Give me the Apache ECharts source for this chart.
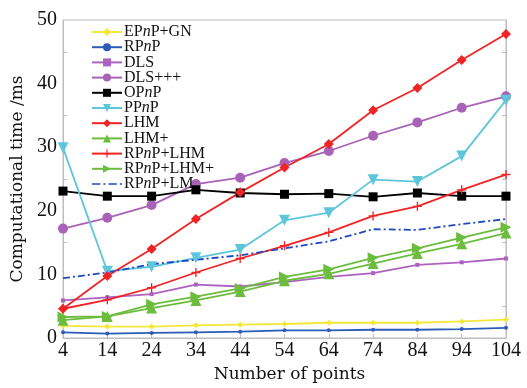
<!DOCTYPE html>
<html><head><meta charset="utf-8">
<script src="https://cdn.jsdelivr.net/npm/echarts@6/dist/echarts.min.js"></script>
<style>html,body{margin:0;padding:0;background:#fff}#c{width:527px;height:388px}</style>
</head><body><div id="c"></div>
<script>
const categories = ['4','14','24','34','44','54','64','74','84','94','104'];
const yTicks = [0,10,20,30,40,50];
const EPnP_GN   = [1.9,1.8,1.8,2.0,2.1,2.2,2.4,2.4,2.4,2.6,2.9];
const RPnP      = [0.9,0.7,0.8,0.9,1.0,1.2,1.2,1.3,1.3,1.4,1.6];
const DLS       = [5.9,6.4,6.9,8.4,8.1,8.8,9.6,10.2,11.5,11.9,12.5];
const DLSppp    = [17.2,18.9,20.9,24.2,25.2,27.5,29.4,31.8,33.9,36.2,38.0];
const OPnP      = [23.1,22.3,22.3,23.3,22.8,22.6,22.7,22.2,22.8,22.3,22.3];
const PPnP      = [29.9,10.5,11.2,12.6,13.9,18.5,19.7,24.9,24.6,28.6,37.4];
const LHM       = [4.6,9.75,14.0,18.7,22.9,26.8,30.5,35.8,39.3,43.7,47.8];
const LHMp      = [2.8,3.4,4.7,5.9,7.3,9.0,10.1,11.7,13.3,14.8,16.5];
const RPnP_LHM  = [4.6,6.0,7.9,10.3,12.5,14.5,16.6,19.2,20.7,23.3,25.7];
const RPnP_LHMp = [3.3,3.4,5.3,6.5,7.8,9.6,10.8,12.6,14.1,15.8,17.4];
const RPnP_LM   = [9.4,10.3,11.6,12.3,13.0,14.1,15.2,17.1,17.0,17.9,18.7];

const FONT = 'DejaVu Serif';
const TFONT = 'Liberation Serif';
const plus = 'path://M3.4,0H4.6V3.4H8V4.6H4.6V8H3.4V4.6H0V3.4H3.4Z';
const dashDotIcon = 'path://M0,0H8V1.6H0Z M11,0H13V1.6H11Z M16,0H24V1.6H16Z M27,0H29V1.6H27Z';
function s(name, data, color, symbol, size, extra) {
  return Object.assign({
    name, type: 'line', data, symbol, symbolSize: size,
    showAllSymbol: true,
    lineStyle: {color, width: 1.8},
    itemStyle: {color},
    emphasis: {disabled: true},
    animation: false
  }, extra || {});
}
const series = [
  s('EPnP+GN', EPnP_GN, '#f2e83a', 'diamond', 6),
  s('RPnP', RPnP, '#2c5cb8', 'circle', 4),
  s('DLS', DLS, '#ad62c0', 'rect', 4),
  s('DLS+++', DLSppp, '#a862b6', 'circle', 10),
  s('OPnP', OPnP, '#000000', 'rect', 9),
  s('PPnP', PPnP, '#5ec6db', 'triangle', 11, {symbolRotate: 180}),
  s('LHM', LHM, '#f02424', 'diamond', 10),
  s('LHM+', LHMp, '#6cbc3e', 'triangle', 11),
  s('RPnP+LHM', RPnP_LHM, '#f02424', plus, 9),
  s('RPnP+LHM+', RPnP_LHMp, '#6cbc3e', 'triangle', 11, {symbolRotate: -90}),
  s('RPnP+LM', RPnP_LM, '#2048c0', 'none', 0, {lineStyle: {color: '#2048c0', width: 1.8, type: [7, 3, 2, 3]}})
];

const chart = echarts.init(document.getElementById('c'), null, {renderer: 'canvas'});
const axisGray = '#bdbdbd';
chart.setOption({
  backgroundColor: '#fff',
  animation: false,
  grid: {left: 63, right: 21, top: 20, bottom: 45, show: true, borderColor: axisGray, borderWidth: 1},
  legend: {
    orient: 'vertical', left: 86, top: 19, itemWidth: 30, itemHeight: 10, itemGap: -0.8,
    data: series.map(x => x.name === 'RPnP+LM' ? {name: x.name, icon: dashDotIcon} : x.name),
    textStyle: {
      fontFamily: TFONT, fontSize: 16, color: '#111', lineHeight: 16, padding: [0,0,0,-3],
      rich: {i: {fontFamily: TFONT, fontSize: 16, fontStyle: 'italic', color: '#111', lineHeight: 16}}
    },
    formatter: name => name.replace(/n/g, '{i|n}')
  },
  xAxis: {
    type: 'category', data: categories, boundaryGap: false,
    name: 'Number of points', nameLocation: 'middle', nameGap: 28,
    nameTextStyle: {fontFamily: FONT, fontSize: 17, color: '#111', padding: [0,0,0,10]},
    axisLine: {lineStyle: {color: axisGray}},
    axisTick: {inside: true, length: 4, lineStyle: {color: axisGray}},
    axisLabel: {interval: 0, fontFamily: TFONT, fontSize: 20, color: '#111', margin: 3},
    splitLine: {show: false}
  },
  yAxis: [{
    type: 'value', min: 0, max: 50, interval: 10,
    name: 'Computational time /ms', nameLocation: 'middle', nameGap: 36,
    nameTextStyle: {fontFamily: FONT, fontSize: 17, color: '#111'},
    axisLine: {show: true, lineStyle: {color: axisGray}},
    axisTick: {inside: true, length: 4, lineStyle: {color: axisGray}},
    minorTick: {show: true, splitNumber: 2, length: 4, lineStyle: {color: axisGray}},
    axisLabel: {fontFamily: TFONT, fontSize: 20, color: '#111', margin: 6,
      formatter: v => yTicks.includes(v) ? String(v) : ''},
    splitLine: {show: false}
  }, {
    type: 'value', min: 0, max: 50, interval: 10, position: 'right',
    axisLine: {show: true, lineStyle: {color: axisGray}},
    axisTick: {inside: true, length: 4, lineStyle: {color: axisGray}},
    minorTick: {show: true, splitNumber: 2, length: 4, lineStyle: {color: axisGray}},
    axisLabel: {show: false}, splitLine: {show: false}
  }],
  series
});
</script></body></html>
